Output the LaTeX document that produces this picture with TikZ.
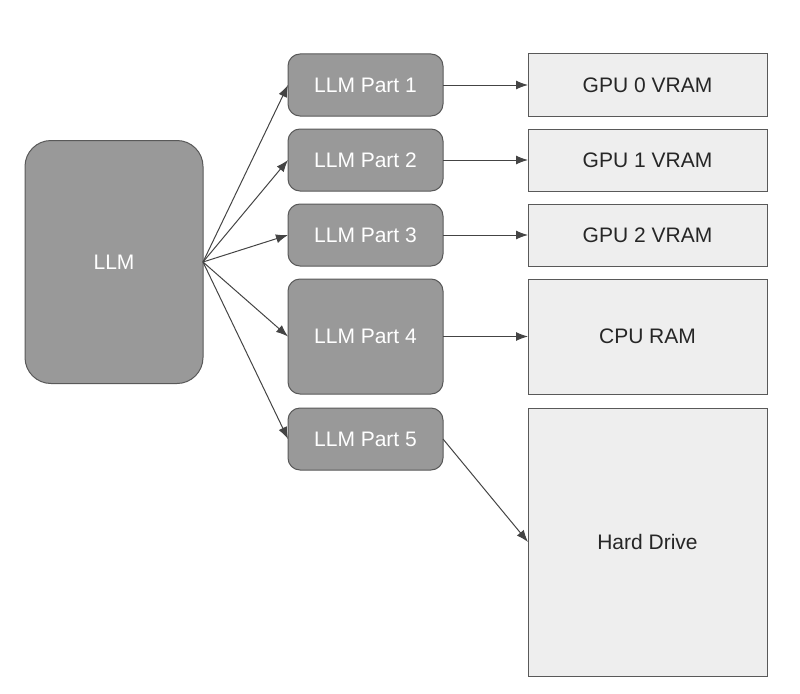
\documentclass[tikz,border=0pt]{standalone}
\usepackage{fontspec}
\setmainfont{Liberation Sans}
\usetikzlibrary{arrows.meta, positioning}
\definecolor{llmGray}{HTML}{999999}
\definecolor{llmEdge}{HTML}{595959}
\definecolor{memFill}{HTML}{EEEEEE}
\definecolor{wireGray}{HTML}{444444}

\begin{document}
\begin{tikzpicture}[
  x=1pt, y=1pt, node distance=13pt,
  part/.style={draw=llmEdge, fill=llmGray, rounded corners=12pt, text=white, line width=1pt,
               minimum width=155pt, minimum height=#1, outer sep=0pt, font=\fontsize{21}{24}\selectfont},
  part/.default=62pt,
  mem/.style={draw=llmEdge, fill=memFill, text=black!85, line width=1pt,
              minimum width=239pt, minimum height=#1, outer sep=0pt, font=\fontsize{21}{24}\selectfont},
  mem/.default=62pt,
  wire/.style={draw=wireGray, line width=1pt, -{Latex[length=12pt,width=9pt]}},
]
  \useasboundingbox (0,0) rectangle (800,-693);

  \node[part=243pt, minimum width=178pt, rounded corners=26pt] (llm) at (114,-262) {LLM};

  \node[part] (p1) at (365.5,-85) {LLM Part 1};
  \node[part, below=of p1] (p2) {LLM Part 2};
  \node[part, below=of p2] (p3) {LLM Part 3};
  \node[part=115pt, below=of p3] (p4) {LLM Part 4};
  \node[part, below=14pt of p4] (p5) {LLM Part 5};

  \node[mem, right=85pt of p1] (g0) {GPU 0 VRAM};
  \node[mem, below=of g0] (g1) {GPU 1 VRAM};
  \node[mem, below=of g1] (g2) {GPU 2 VRAM};
  \node[mem=115pt, below=of g2] (cpu) {CPU RAM};
  \node[mem=268pt, below=14pt of cpu] (hd) {Hard Drive};

  % split
  \foreach \p in {p1,p2,p3,p4,p5}
    \draw[wire] (llm.east) -- (\p.west);

  % placement
  \draw[wire] (p1) -- (g0);
  \draw[wire] (p2) -- (g1);
  \draw[wire] (p3) -- (g2);
  \draw[wire] (p4) -- (cpu);
  \draw[wire] (p5.east) -- (hd.west);
\end{tikzpicture}
\end{document}
